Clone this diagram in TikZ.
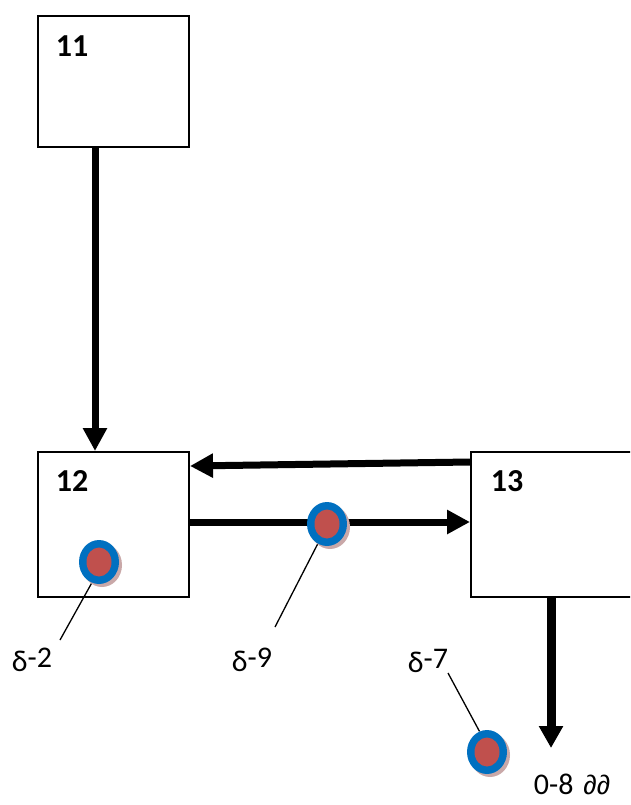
\documentclass[tikz,border=0pt]{standalone}
\usepackage{fontspec}
\setmainfont{Carlito}
\newfontfamily\altfont{Liberation Sans}
\usetikzlibrary{arrows.meta,shapes.geometric,shadows,backgrounds}
\definecolor{dotblue}{HTML}{0070C0}
\definecolor{dotred}{HTML}{C0504D}
\definecolor{dotshadow}{HTML}{C9A8A8}
\tikzset{
  box/.style={draw=black,line width=2pt,anchor=north west,inner sep=0pt},
  boxlabel/.style={font=\fontsize{32}{32}\selectfont\bfseries,anchor=center,inner sep=0pt},
  flow/.style={line width=7pt,-{Triangle[length=23pt,width=23pt]}},
  dotmark/.style={ellipse,fill=dotblue,minimum width=40pt,minimum height=44pt,inner sep=0pt,
    drop shadow={shadow xshift=3pt,shadow yshift=-3pt,fill=dotshadow,opacity=1},
    path picture={\fill[dotred] (path picture bounding box.center) ellipse (12.5pt and 14.5pt);}},
  leader/.style={line width=1.3pt,black},
  tag/.style={font=\fontsize{30}{30}\selectfont,anchor=center,inner sep=0pt}
}
\begin{document}
\begin{tikzpicture}[x=1pt,y=-1pt]
\clip (0,0) rectangle (630,805);
% boxes
\node[box,minimum width=151pt,minimum height=131pt] (b11) at (37,15) {};
\node[box,minimum width=151pt,minimum height=145pt] (b12) at (37,451) {};
\node[box,minimum width=175pt,minimum height=145pt] (b13) at (470,451) {};
\node[boxlabel] (t11) at (72,46) {11};
\node[boxlabel] (t12) at (72,481) {12};
\node[boxlabel] (t13) at (507,481) {13};
% flow arrows
\draw[flow] (b11.south -| 95,0) -- (b12.north -| 95,0);
\draw[flow] (b13.west |- 0,462) -- (b12.east |- 0,466);
\draw[flow] (b12.east |- 0,522) -- (b13.west |- 0,522);
\coordinate (out) at (551,748);
\draw[line width=9pt,-{Triangle[length=22pt,width=23pt]}] (b13.south -| out) -- (out);
% dots
\node[dotmark] (d1) at (99,562) {};
\node[dotmark] (d2) at (327,524) {};
\node[dotmark] (d3) at (487,752) {};
% labels
\node[tag] (l1) at (32,660) {\raisebox{-4pt}{δ}-2};
\node[tag] (l2) at (252,660) {\raisebox{-4pt}{δ}-9};
\node[tag] (l3) at (428,661) {\raisebox{-4pt}{δ}-7};
\node[tag] (l4) at (572,784) {0-8\hspace{10pt}{\altfont\fontsize{27}{27}\selectfont ∂∂}};
\coordinate (e1) at (60,640);
\coordinate (e2) at (275,627);
\coordinate (e3) at (448,673);
\begin{scope}[on background layer]
\fill[white] (0,0) rectangle (630,805);
\draw[leader] (d1.251) -- (e1);
\draw[leader] (d2.245) -- (e2);
\draw[leader] (d3.110) -- (e3);
\end{scope}
\end{tikzpicture}
\end{document}
